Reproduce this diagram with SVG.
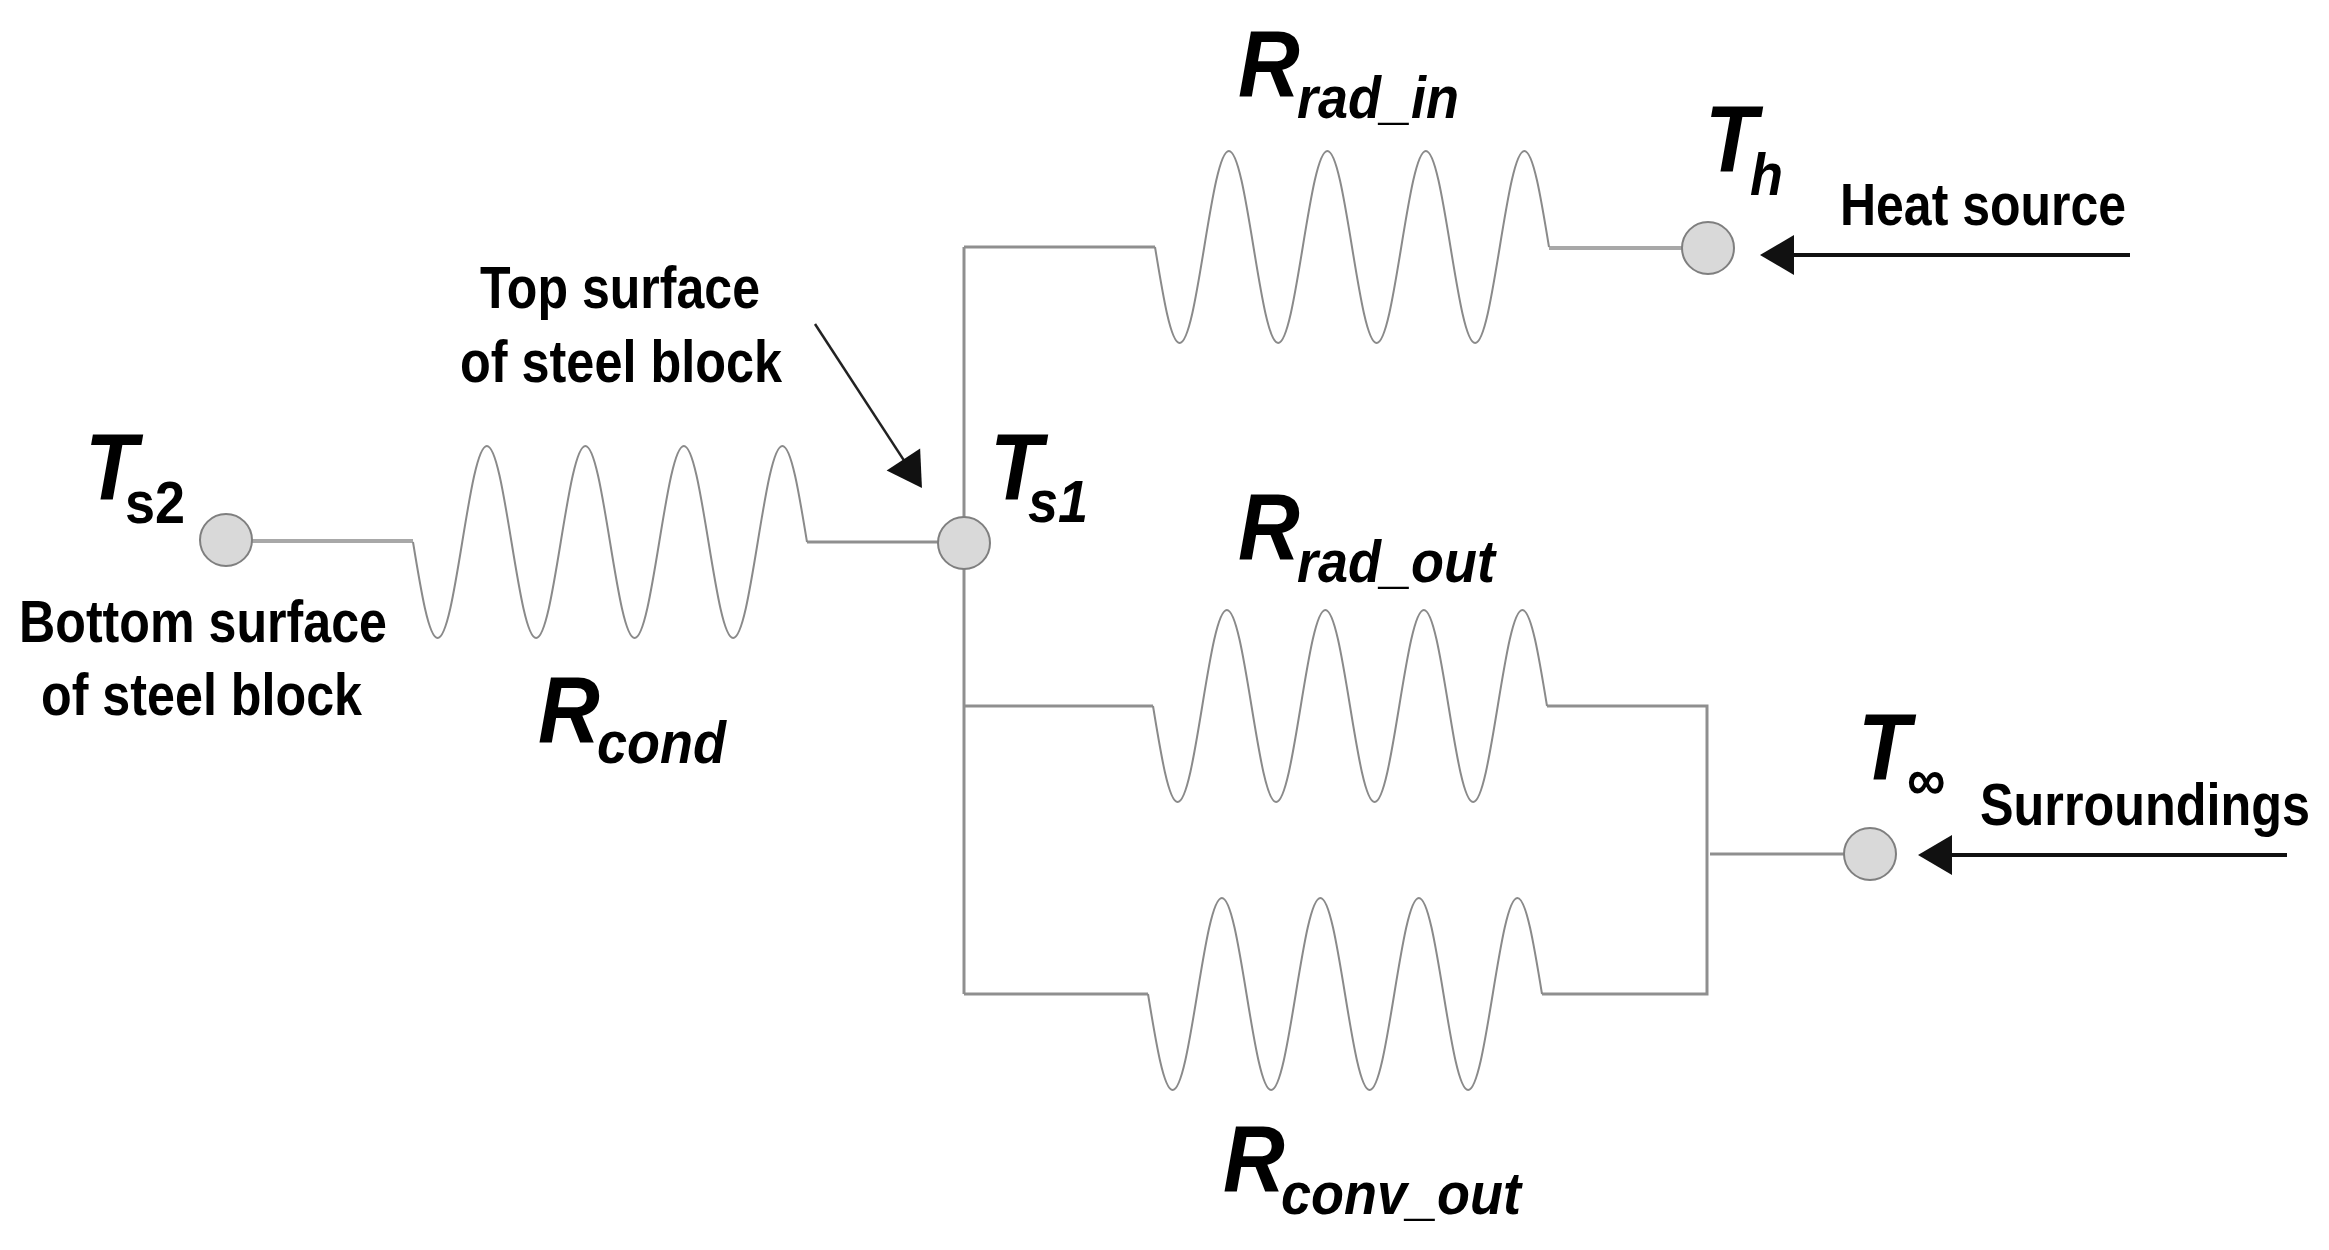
<svg xmlns="http://www.w3.org/2000/svg" width="2329" height="1250" viewBox="0 0 2329 1250">
<style>
.wire{fill:none;stroke:#8f8f8f;stroke-width:3}
.wire2{fill:none;stroke:#a8a8a8;stroke-width:4}
.res{fill:none;stroke:#8a8a8a;stroke-width:2}
.node{fill:#d9d9d9;stroke:#7f7f7f;stroke-width:2}
.arrow{fill:none;stroke:#111;stroke-width:4}
.arrowthin{fill:none;stroke:#222;stroke-width:2.5}
.lbl{font-family:"Liberation Sans",Arial,sans-serif;font-weight:bold;font-size:60px;fill:#000}
.sym{font-family:"Liberation Sans",Arial,sans-serif;font-weight:bold;fill:#000}
.big{font-style:italic;font-size:95px}
.sub{font-style:italic;font-size:60px}
.subu{font-style:normal;font-size:60px}
</style>
<defs>
<marker id="ah" markerUnits="userSpaceOnUse" markerWidth="34" markerHeight="40" refX="24" refY="20" orient="auto" overflow="visible">
<path d="M0,0 L34,20 L0,40 Z" fill="#111"/>
</marker>
<path id="res" d="M0,0 c8.03,49.2 15.71,96 24.625,96 c8.915,0 16.595,-46.8 24.625,-96 c8.03,-49.2 15.71,-96 24.625,-96 c8.915,0 16.595,46.8 24.625,96 c8.03,49.2 15.71,96 24.625,96 c8.915,0 16.595,-46.8 24.625,-96 c8.03,-49.2 15.71,-96 24.625,-96 c8.915,0 16.595,46.8 24.625,96 c8.03,49.2 15.71,96 24.625,96 c8.915,0 16.595,-46.8 24.625,-96 c8.03,-49.2 15.71,-96 24.625,-96 c8.915,0 16.595,46.8 24.625,96 c8.03,49.2 15.71,96 24.625,96 c8.915,0 16.595,-46.8 24.625,-96 c8.03,-49.2 15.71,-96 24.625,-96 c8.915,0 16.595,46.8 24.625,96"/>
</defs>
<rect width="2329" height="1250" fill="#fff"/>

<g id="connectors">
<path class="wire2" d="M252,541 H413"/>
<path class="wire" d="M807,542 H938"/>
<path class="wire" d="M964,247 V994"/>
<path class="wire" d="M964,247 H1155"/>
<path class="wire2" d="M1549,248 H1682"/>
<path class="wire" d="M964,706 H1153"/>
<path class="wire" d="M1547,706 H1707 V994 H1542"/>
<path class="wire" d="M964,994 H1148"/>
<path class="wire" d="M1710,854 H1844"/>
<path class="arrow" d="M2130,255 H1770" marker-end="url(#ah)"/>
<path class="arrow" d="M2287,855 H1928" marker-end="url(#ah)"/>
<path class="arrowthin" d="M815,324 L916.5,479.6" marker-end="url(#ah)"/>
</g>

<g id="R_cond">
<use href="#res" class="res" x="413" y="542"/>
<text class="sym" transform="translate(538,743) scale(0.9,1)"><tspan class="big" x="0" y="0">R</tspan><tspan class="sub" x="65.6" y="20">cond</tspan></text>
</g>

<g id="R_rad_in">
<use href="#res" class="res" x="1155" y="247"/>
<text class="sym" transform="translate(1238,97) scale(0.9,1)"><tspan class="big" x="0" y="0">R</tspan><tspan class="sub" x="65.6" y="21">rad_in</tspan></text>
</g>

<g id="R_rad_out">
<use href="#res" class="res" x="1153" y="706"/>
<text class="sym" transform="translate(1238,560) scale(0.9,1)"><tspan class="big" x="0" y="0">R</tspan><tspan class="sub" x="65.6" y="22">rad_out</tspan></text>
</g>

<g id="R_conv_out">
<use href="#res" class="res" x="1148" y="994"/>
<text class="sym" transform="translate(1223,1192) scale(0.9,1)"><tspan class="big" x="0" y="0">R</tspan><tspan class="sub" x="64.4" y="22">conv_out</tspan></text>
</g>

<g id="T_s2">
<circle class="node" cx="226" cy="540" r="26"/>
<text class="sym" transform="translate(85,500) scale(0.9,1)"><tspan class="big" x="0" y="0">T</tspan><tspan class="subu" x="44.4" y="23">s2</tspan></text>
<text class="lbl" x="19" y="642" textLength="368" lengthAdjust="spacingAndGlyphs">Bottom surface</text>
<text class="lbl" x="41" y="715" textLength="321" lengthAdjust="spacingAndGlyphs">of steel block</text>
</g>

<g id="top_surface_label">
<text class="lbl" x="480" y="308" textLength="280" lengthAdjust="spacingAndGlyphs">Top surface</text>
<text class="lbl" x="460" y="382" textLength="322" lengthAdjust="spacingAndGlyphs">of steel block</text>
</g>

<g id="T_s1">
<circle class="node" cx="964" cy="543" r="26"/>
<text class="sym" transform="translate(990,500) scale(0.9,1)"><tspan class="big" x="0" y="0">T</tspan><tspan class="sub" x="42.2" y="22">s1</tspan></text>
</g>

<g id="T_h">
<circle class="node" cx="1708" cy="248" r="26"/>
<text class="sym" transform="translate(1705,172) scale(0.9,1)"><tspan class="big" x="0" y="0">T</tspan><tspan class="sub" x="50" y="23">h</tspan></text>
<text class="lbl" x="1840" y="225" textLength="286" lengthAdjust="spacingAndGlyphs">Heat source</text>
</g>

<g id="T_inf">
<circle class="node" cx="1870" cy="854" r="26"/>
<text class="sym" transform="translate(1858,780) scale(0.9,1)"><tspan class="big" x="0" y="0">T</tspan><tspan class="subu" x="54.4" y="20">∞</tspan></text>
<text class="lbl" x="1980" y="825" textLength="330" lengthAdjust="spacingAndGlyphs">Surroundings</text>
</g>
</svg>
